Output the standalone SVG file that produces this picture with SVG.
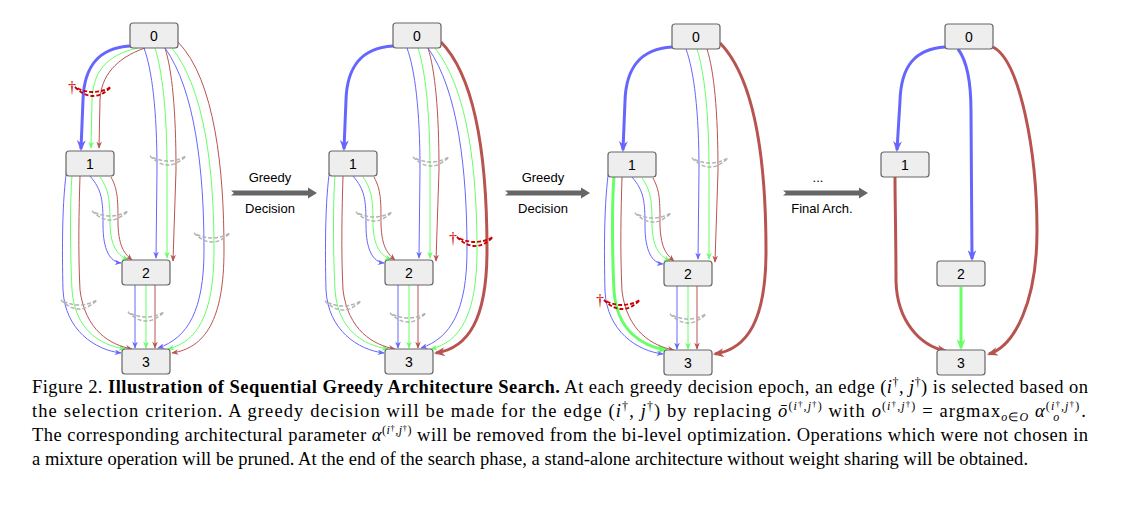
<svg xmlns="http://www.w3.org/2000/svg" xmlns:xlink="http://www.w3.org/1999/xlink" width="1122" height="512" viewBox="0 0 1122 512">
<style>
.nd rect{fill:#eeeeee;stroke:#666666;stroke-width:1.2}
.nd text{font-family:"Liberation Sans",Arial,sans-serif;font-size:14px;text-anchor:middle;fill:#000}
.e{fill:none;stroke-width:1}
.t{fill:none;stroke-width:3}
.b{stroke:#6666ff}
.g{stroke:#66ff66}
.r{stroke:#b85450}
.b.e{marker-end:url(#mb)}
.g.e{marker-end:url(#mg)}
.r.e{marker-end:url(#mr)}
.b.t{marker-end:url(#mbT)}
.g.t{marker-end:url(#mgT)}
.r.t{marker-end:url(#mrT)}
.ga{fill:none;stroke:#b3b3b3;stroke-width:1.5;stroke-dasharray:4 2}
.ra{fill:none;stroke:#cc0000;stroke-width:1.8;stroke-dasharray:4 2}
.dg{font-family:"Liberation Serif","Times New Roman",serif;font-size:16px;fill:#cc0000;text-anchor:middle}
.al{font-family:"Liberation Sans",Arial,sans-serif;font-size:13px;text-anchor:middle;fill:#000}
.cap{font-family:"Liberation Serif","Times New Roman",serif;font-size:18.5px;fill:#000}
.it{font-style:italic}
.sp{font-size:12px}
.dd{font-size:9px}
</style>
<defs>
<marker id="mb" viewBox="0 0 10 8" refX="9" refY="4" markerWidth="7" markerHeight="5.6" markerUnits="userSpaceOnUse" orient="auto"><path d="M0,0 L10,4 L0,8 L3,4 Z" fill="#6666ff"/></marker>
<marker id="mg" viewBox="0 0 10 8" refX="9" refY="4" markerWidth="7" markerHeight="5.6" markerUnits="userSpaceOnUse" orient="auto"><path d="M0,0 L10,4 L0,8 L3,4 Z" fill="#66ff66"/></marker>
<marker id="mr" viewBox="0 0 10 8" refX="9" refY="4" markerWidth="7" markerHeight="5.6" markerUnits="userSpaceOnUse" orient="auto"><path d="M0,0 L10,4 L0,8 L3,4 Z" fill="#b85450"/></marker>
<marker id="mbT" viewBox="0 0 10 8" refX="8" refY="4" markerWidth="11" markerHeight="8.8" markerUnits="userSpaceOnUse" orient="auto"><path d="M0,0 L10,4 L0,8 L3,4 Z" fill="#6666ff"/></marker>
<marker id="mgT" viewBox="0 0 10 8" refX="8" refY="4" markerWidth="11" markerHeight="8.8" markerUnits="userSpaceOnUse" orient="auto"><path d="M0,0 L10,4 L0,8 L3,4 Z" fill="#66ff66"/></marker>
<marker id="mrT" viewBox="0 0 10 8" refX="8" refY="4" markerWidth="11" markerHeight="8.8" markerUnits="userSpaceOnUse" orient="auto"><path d="M0,0 L10,4 L0,8 L3,4 Z" fill="#b85450"/></marker>
<path id="arc" d="M-18,-4 Q0,14 18,-4 L14,-2 Q0,4 -14,-2 Z"/>
</defs>

<!-- Panel 1 -->
<g id="panel1">
<g id="p1-edges">
<path class="b t" d="M130,46 C97,48 84,68 83,100 L81,149"/>
<path class="g e" d="M138,48 C106,55 93,72 92,100 L91,148"/>
<path class="r e" d="M145,48 C116,58 101,76 100,100 L99,148"/>
<path class="b e" d="M144,48 C152,70 157,110 157,170 L156,258"/>
<path class="g e" d="M155,48 C162,70 167,110 167,170 L167,258"/>
<path class="r e" d="M165,48 C172,70 176,110 176,170 L173,261"/>
<path class="b e" d="M165,48 C195,90 204,170 204,250 C204,310 188,338 158,348"/>
<path class="g e" d="M172,48 C205,90 214,170 214,250 C214,315 197,342 168,349"/>
<path class="r e" d="M178,42 C215,80 224,170 224,250 C224,320 205,348 172,353"/>
<path class="b e" d="M90,176 C102,190 103,200 103,225 C103,250 110,262 121,263"/>
<path class="g e" d="M100,177 C109,190 110,200 110,225 C111,248 118,255 128,260"/>
<path class="r e" d="M111,177 C118,190 118,200 118,225 C119,248 125,254 132,260"/>
<path class="b e" d="M67,168 C62,200 62,250 63,290 C65,330 95,350 121,353"/>
<path class="g e" d="M72,176 C70,200 70,250 72,290 C75,330 100,345 125,349"/>
<path class="r e" d="M80,176 C79,210 78,250 80,290 C85,330 110,345 132,349"/>
<path class="b e" d="M135,285 L135,348"/>
<path class="g e" d="M146,285 L146,348"/>
<path class="r e" d="M155,285 L155,348"/>
<use href="#arc" class="ra" transform="translate(93,91)"/>
<text class="dg" x="72" y="93">†</text>
<use href="#arc" class="ga" transform="translate(168,160)"/>
<use href="#arc" class="ga" transform="translate(110,215)"/>
<use href="#arc" class="ga" transform="translate(212,237)"/>
<use href="#arc" class="ga" transform="translate(79,304)"/>
<use href="#arc" class="ga" transform="translate(146,316)"/>
</g>
<g id="p1-n0" class="nd"><rect x="130" y="23" width="48" height="25" rx="3"/><text x="154" y="41">0</text></g>
<g id="p1-n1" class="nd"><rect x="66" y="151" width="48" height="25" rx="3"/><text x="90" y="169">1</text></g>
<g id="p1-n2" class="nd"><rect x="122" y="260" width="48" height="25" rx="3"/><text x="146" y="278">2</text></g>
<g id="p1-n3" class="nd"><rect x="122" y="349" width="48" height="25" rx="3"/><text x="146" y="367">3</text></g>
</g>

<!-- Panel 2 -->
<g id="panel2" transform="translate(263,0)">
<g id="p2-edges">
<path class="b t" d="M130,46 C97,48 84,68 83,100 L81,149"/>
<path class="b e" d="M144,48 C152,70 157,110 157,170 L156,258"/>
<path class="g e" d="M155,48 C162,70 167,110 167,170 L167,258"/>
<path class="r e" d="M165,48 C172,70 176,110 176,170 L173,261"/>
<path class="b e" d="M165,48 C195,90 204,170 204,250 C204,310 188,338 158,348"/>
<path class="g e" d="M172,48 C205,90 214,170 214,250 C214,315 197,342 168,349"/>
<path class="r t" d="M178,42 C215,80 224,170 224,250 C224,320 205,348 173,353"/>
<path class="b e" d="M90,176 C102,190 103,200 103,225 C103,250 110,262 121,263"/>
<path class="g e" d="M100,177 C109,190 110,200 110,225 C111,248 118,255 128,260"/>
<path class="r e" d="M111,177 C118,190 118,200 118,225 C119,248 125,254 132,260"/>
<path class="b e" d="M67,168 C62,200 62,250 63,290 C65,330 95,350 121,353"/>
<path class="g e" d="M72,176 C70,200 70,250 72,290 C75,330 100,345 125,349"/>
<path class="r e" d="M80,176 C79,210 78,250 80,290 C85,330 110,345 132,349"/>
<path class="b e" d="M135,285 L135,348"/>
<path class="g e" d="M146,285 L146,348"/>
<path class="r e" d="M155,285 L155,348"/>
<use href="#arc" class="ra" transform="translate(212,241)"/>
<text class="dg" x="190" y="244">†</text>
<use href="#arc" class="ga" transform="translate(168,161)"/>
<use href="#arc" class="ga" transform="translate(111,216)"/>
<use href="#arc" class="ga" transform="translate(80,305)"/>
<use href="#arc" class="ga" transform="translate(145,317)"/>
</g>
<g id="p2-n0" class="nd"><rect x="130" y="23" width="48" height="25" rx="3"/><text x="154" y="41">0</text></g>
<g id="p2-n1" class="nd"><rect x="66" y="151" width="48" height="25" rx="3"/><text x="90" y="169">1</text></g>
<g id="p2-n2" class="nd"><rect x="122" y="260" width="48" height="25" rx="3"/><text x="146" y="278">2</text></g>
<g id="p2-n3" class="nd"><rect x="122" y="349" width="48" height="25" rx="3"/><text x="146" y="367">3</text></g>
</g>

<!-- Panel 3 -->
<g id="panel3" transform="translate(542,1)">
<g id="p3-edges">
<path class="b t" d="M130,46 C97,48 84,68 83,100 L81,149"/>
<path class="b e" d="M144,48 C152,70 157,110 157,170 L156,258"/>
<path class="g e" d="M155,48 C162,70 167,110 167,170 L167,258"/>
<path class="r e" d="M165,48 C172,70 176,110 176,170 L173,261"/>
<path class="r t" d="M178,42 C215,80 224,170 224,250 C224,320 205,348 173,353"/>
<path class="b e" d="M90,176 C102,190 103,200 103,225 C103,250 110,262 121,263"/>
<path class="g e" d="M100,177 C109,190 110,200 110,225 C111,248 118,255 128,260"/>
<path class="r e" d="M111,177 C118,190 118,200 118,225 C119,248 125,254 132,260"/>
<path class="b e" d="M67,168 C62,200 62,250 63,290 C65,330 95,350 121,353"/>
<path class="g t" d="M72,176 C70,200 70,250 72,290 C75,330 100,345 124,349"/>
<path class="r e" d="M80,176 C79,210 78,250 80,290 C85,330 110,345 132,349"/>
<path class="b e" d="M135,285 L135,348"/>
<path class="g e" d="M146,285 L146,348"/>
<path class="r e" d="M155,285 L155,348"/>
<use href="#arc" class="ra" transform="translate(80,303)"/>
<text class="dg" x="58" y="305">†</text>
<use href="#arc" class="ga" transform="translate(168,161)"/>
<use href="#arc" class="ga" transform="translate(111,216)"/>
<use href="#arc" class="ga" transform="translate(146,317)"/>
</g>
<g id="p3-n0" class="nd"><rect x="130" y="23" width="48" height="25" rx="3"/><text x="154" y="41">0</text></g>
<g id="p3-n1" class="nd"><rect x="66" y="151" width="48" height="25" rx="3"/><text x="90" y="169">1</text></g>
<g id="p3-n2" class="nd"><rect x="122" y="260" width="48" height="25" rx="3"/><text x="146" y="278">2</text></g>
<g id="p3-n3" class="nd"><rect x="122" y="349" width="48" height="25" rx="3"/><text x="146" y="367">3</text></g>
</g>

<!-- Panel 4 -->
<g id="panel4" transform="translate(815,1)">
<g id="p4-edges">
<path class="b t" d="M130,46 C100,48 86,65 85,100 L82,149"/>
<path class="b t" d="M143,48 C152,60 156,80 156,110 L157,258"/>
<path class="r t" d="M178,46 C205,60 222,150 222,230 C222,300 200,345 174,353"/>
<path class="r t" d="M80,176 C80,200 81,240 81,280 C82,320 105,345 131,350"/>
<path class="g t" d="M146,286 L146,347"/>
</g>
<g id="p4-n0" class="nd"><rect x="130" y="23" width="48" height="25" rx="3"/><text x="154" y="41">0</text></g>
<g id="p4-n1" class="nd"><rect x="66" y="151" width="48" height="25" rx="3"/><text x="90" y="169">1</text></g>
<g id="p4-n2" class="nd"><rect x="122" y="260" width="48" height="25" rx="3"/><text x="146" y="278">2</text></g>
<g id="p4-n3" class="nd"><rect x="122" y="349" width="48" height="25" rx="3"/><text x="146" y="367">3</text></g>
</g>

<!-- Between-panel arrows -->
<g id="step-arrows">
<g id="step1">
<polygon points="231,190.5 308,190.5 308,187.5 317,193 308,198.5 308,195.5 231,195.5 234,193" fill="#666666"/>
<text class="al" x="270" y="182">Greedy</text>
<text class="al" x="270" y="213">Decision</text>
</g>
<g id="step2">
<polygon points="505,190.5 581,190.5 581,187.5 590,193 581,198.5 581,195.5 505,195.5 508,193" fill="#666666"/>
<text class="al" x="543" y="182">Greedy</text>
<text class="al" x="543" y="213">Decision</text>
</g>
<g id="step3">
<polygon points="783,190.5 859,190.5 859,187.5 868,193 859,198.5 859,195.5 783,195.5 786,193" fill="#666666"/>
<text class="al" x="818" y="182">...</text>
<text class="al" x="822" y="213">Final Arch.</text>
</g>
</g>

<!-- Caption -->
<g id="caption" class="cap">
<text x="32" y="393" textLength="1056" lengthAdjust="spacing">Figure 2. <tspan font-weight="bold">Illustration of Sequential Greedy Architecture Search.</tspan> At each greedy decision epoch, an edge (<tspan class="it">i</tspan><tspan class="sp" dy="-7">†</tspan><tspan dy="7">, </tspan><tspan class="it">j</tspan><tspan class="sp" dy="-7">†</tspan><tspan dy="7">) is selected based on</tspan></text>
<text x="32" y="417" textLength="1054" lengthAdjust="spacing">the selection criterion. A greedy decision will be made for the edge (<tspan class="it">i</tspan><tspan class="sp" dy="-7">†</tspan><tspan dy="7">, </tspan><tspan class="it">j</tspan><tspan class="sp" dy="-7">†</tspan><tspan dy="7">) by replacing </tspan><tspan class="it">ō</tspan><tspan class="sp" dy="-7">(<tspan class="it">i</tspan><tspan class="dd" dy="-3">†</tspan><tspan dy="3">,</tspan><tspan class="it">j</tspan><tspan class="dd" dy="-3">†</tspan><tspan dy="3">)</tspan></tspan><tspan dy="7"> with </tspan><tspan class="it">o</tspan><tspan class="sp" dy="-7">(<tspan class="it">i</tspan><tspan class="dd" dy="-3">†</tspan><tspan dy="3">,</tspan><tspan class="it">j</tspan><tspan class="dd" dy="-3">†</tspan><tspan dy="3">)</tspan></tspan><tspan dy="7"> = argmax</tspan><tspan class="sp" dy="4"><tspan class="it">o</tspan>∈<tspan class="it">O</tspan></tspan><tspan dy="-4">  </tspan><tspan class="it">α</tspan><tspan class="sp" dy="-7">(<tspan class="it">i</tspan><tspan class="dd" dy="-3">†</tspan><tspan dy="3">,</tspan><tspan class="it">j</tspan><tspan class="dd" dy="-3">†</tspan><tspan dy="3">)</tspan></tspan><tspan class="sp it" dx="-27" dy="11">o</tspan><tspan dx="21" dy="-4">.</tspan></text>
<text x="32" y="441" textLength="1056" lengthAdjust="spacing">The corresponding architectural parameter <tspan class="it">α</tspan><tspan class="sp" dy="-7">(<tspan class="it">i</tspan><tspan class="dd" dy="-3">†</tspan><tspan dy="3">,</tspan><tspan class="it">j</tspan><tspan class="dd" dy="-3">†</tspan><tspan dy="3">)</tspan></tspan><tspan dy="7"> will be removed from the bi-level optimization. Operations which were not chosen in</tspan></text>
<text x="32" y="465" textLength="996" lengthAdjust="spacing">a mixture operation will be pruned. At the end of the search phase, a stand-alone architecture without weight sharing will be obtained.</text>
</g>
</svg>
